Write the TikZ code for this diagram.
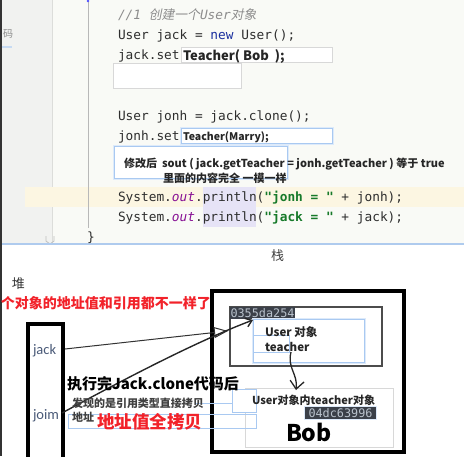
\documentclass[tikz,border=0pt]{standalone}
\usepackage{fontspec}
\setmainfont{Liberation Sans}
\newfontfamily\cjk{Noto Sans CJK SC}
\newfontfamily\cjkit[FakeSlant=0.2]{Noto Sans CJK SC}
\newfontfamily\mono{DejaVu Sans Mono}
\newfontfamily\cali{Carlito}
\usetikzlibrary{arrows.meta}
\definecolor{codebg}{HTML}{F9FAF6}
\definecolor{gutter}{HTML}{F1F2F0}
\definecolor{gutterline}{HTML}{DCDDDA}
\definecolor{guide}{HTML}{B8B8B8}
\definecolor{yellowhl}{HTML}{FCF6E2}
\definecolor{lavender}{HTML}{E6E3F6}
\definecolor{sepblue}{HTML}{AFCBEE}
\definecolor{codefg}{HTML}{2E2E2E}
\definecolor{cmt}{HTML}{8C8C8C}
\definecolor{kw}{HTML}{1A2F9E}
\definecolor{outc}{HTML}{871094}
\definecolor{str}{HTML}{177A2A}
\definecolor{boxblue}{HTML}{A9C9F1}
\definecolor{glow}{HTML}{DDEAFA}
\definecolor{shadow}{HTML}{D8D8D8}
\definecolor{redtxt}{HTML}{F2222A}
\definecolor{slate}{HTML}{4A5A78}
\definecolor{addrbg}{HTML}{3B4049}
\definecolor{addrfg}{HTML}{B9C2CC}
\begin{document}
\begin{tikzpicture}[x=1pt,y=-1pt,
  every node/.style={inner sep=0pt, outer sep=0pt},
  code/.style={anchor=base west, font=\mono\fontsize{12.8}{14}\selectfont, text=codefg},
  ann/.style={anchor=base west, font=\cjk\bfseries\fontsize{#1}{#1}\selectfont, text=black!85},
  ann/.default=11,
  wbox/.style={draw=shadow, fill=white, line width=0.8pt, anchor=north west},
  bbox/.style={draw=boxblue, fill=white, line width=1pt, anchor=north west,
     preaction={draw=glow, line width=3pt}},
  bline/.style={draw=boxblue, line width=1pt},
  heavy/.style={draw=black, line width=4pt, anchor=north west},
  addr/.style={fill=addrbg, text=addrfg, font=\mono\fontsize{11.8}{11}\selectfont, anchor=north west, inner xsep=0.5pt, inner ysep=0pt, minimum height=11.5pt},
  conn/.style={draw=black!85, line width=1.2pt}
]
\useasboundingbox (0,0) rectangle (464,456);
% ---- editor background
\fill[codebg] (0,0) rectangle (464,243);
\fill[gutter] (2,0) rectangle (52,243);
\draw[gutterline] (52,0) -- (52,243);
\fill[yellowhl] (25,187) rectangle (464,207);
\fill[lavender] (203,187) rectangle (256,227);
\draw[guide, line width=0.7pt] (88,2) -- (88,228);
\fill[blue!70] (88,1) circle (1.4);
\node[anchor=base west, font=\cjk\fontsize{10}{10}\selectfont, text=black!45] (cut) at (3,37) {码};
\draw[sepblue!70, line width=2.5pt] (2,47) -- (12,47);
\draw[black!25, line width=0.8pt] (46,236) -- (46,241) -- (50,244) -- (54,241) -- (54,236);
\fill[white] (0,245) rectangle (464,456);
\draw[sepblue, line width=2pt] (0,244) -- (464,244);
\fill[black!80] (0,0) rectangle (2,456);
% ---- code lines
\node[code, text=cmt] (c1) at (118,19) {\itshape //1 {\cjkit 创建一个}User{\cjkit 对象}};
\node[code] (c2) at (118,39) {User jack = \textcolor{kw}{new} User();};
\node[code] (c3) at (118,59) {jack.set};
\node[code] (c4) at (118,120) {User jonh = jack.clone();};
\node[code] (c5) at (118,140) {jonh.set};
\node[code] (c6) at (118,201) {System.\textcolor{outc}{\itshape out}.println(\textcolor{str}{\bfseries "jonh = "} + jonh);};
\node[code] (c7) at (118,221) {System.\textcolor{outc}{\itshape out}.println(\textcolor{str}{\bfseries "jack = "} + jack);};
\node[code] (c8) at (87,241) {\}};
% ---- overlay boxes on the code
\node[wbox, minimum width=151pt, minimum height=15pt] (b1) at (181,47) {};
\node[ann=13] (t1) at (183,60) {Teacher( Bob\ \ );};
\node[wbox, minimum width=128pt, minimum height=25pt] (b2) at (113,63) {};
\node[bbox, minimum width=151pt, minimum height=15pt] (b3) at (181,128) {};
\node[ann=10.5] (t3) at (183,140) {Teacher(Marry);};
\node[bbox, minimum width=173pt, minimum height=32pt] (b4) at (114,146) {};
\node[ann=11] (t4) at (124,167) {修改后\ \ sout ( jack.getTeacher = jonh.getTeacher ) 等于 true};
\node[ann=11] (t5) at (163,182) {里面的内容完全 一模一样};
% ---- lower part
\node[anchor=base west, font=\cjk\fontsize{13}{13}\selectfont, text=black!75] (zhan) at (271,260) {栈};
\node[anchor=base west, font=\cjk\fontsize{13}{13}\selectfont, text=black!80] (dui) at (12,288) {堆};
\node[anchor=base west, font=\cjk\bfseries\fontsize{14}{14}\selectfont, text=redtxt] (redt) at (1,308) {个对象的地址值和引用都不一样了};
% stack
\node[heavy, minimum width=35pt, minimum height=150pt] (stack) at (27.5,324) {};
\node[anchor=base west, font=\cali\fontsize{14.5}{14.5}\selectfont, text=slate] (jack) at (33,354) {jack};
\node[anchor=base west, font=\cali\fontsize{14.5}{14.5}\selectfont, text=slate] (joim) at (33,419) {joim};
% heap
\node[heavy, minimum width=192.5pt, minimum height=161.5pt] (heap) at (211.5,290.5) {};
\node[draw=black!70, line width=1.1pt, anchor=north west, minimum width=152pt, minimum height=59pt] (obj) at (230,307) {};
\node[addr, minimum width=65pt] (a1) at (230,307) {0355da254};
\node[bbox, minimum width=111pt, minimum height=43pt] (ubox) at (253,319) {};
\node[draw=boxblue, line width=1pt, anchor=north west, minimum width=36pt, minimum height=17pt] (ubin) at (253,335) {};
\node[ann=11.5] (u1) at (265,336) {User 对象};
\node[ann=11.5] (u2) at (265,351) {teacher};
% teacher object box
\node[wbox, minimum width=148pt, minimum height=59pt] (tbox) at (245,388) {};
\node[bline, fill=white, anchor=north west, minimum width=24pt, minimum height=23pt] (sb1) at (232,389) {};
\node[bline, anchor=north west, minimum width=188pt, minimum height=14pt] (sb2) at (68,414) {};
\draw[bline] (195,403) -- (sb1.west |- 0,403);
\node[ann=11] (tt) at (252,404) {User对象内teacher对象};
\node[addr, minimum width=71pt, minimum height=12pt, preaction={draw=glow, line width=2.5pt}] (a2) at (305,407) {04dc63996};
\node[anchor=base west, font=\cjk\bfseries\fontsize{23}{23}\selectfont] (bob) at (286,441) {Bob};
% connectors
\coordinate (jackout) at (65,349);
\coordinate (jackin) at (228,331);
\coordinate (joimout) at (62,413);
\coordinate (joimin) at (253,320);
\coordinate (tchout) at (291,352);
\coordinate (tchin) at (296,390);
\draw[draw=black!80, line width=1pt, -{Triangle[open, length=14pt, width=11pt]}] (jackout) -- (jackin);
\draw[conn, line width=1.4pt, -{Straight Barb[length=6pt, width=9pt]}] (joimout) .. controls (130,376) and (200,340) .. (joimin);
\draw[conn, line width=1.3pt, -{Straight Barb[length=8pt, width=14pt]}] (tchout) .. controls (287,368) and (298,374) .. (tchin);
% texts over the lines
\node[ann=15, text=black] (exec) at (67,389) {执行完Jack.clone代码后};
\node[ann=11, text=black!75] (fx1) at (72,407) {发现的是引用类型直接拷贝};
\node[ann=11, text=black!75] (fx2) at (72,421) {地址};
\node[anchor=base west, font=\cjk\bfseries\fontsize{17.5}{17.5}\selectfont, text=redtxt] (qk) at (97,428) {地址值全拷贝};
\end{tikzpicture}
\end{document}
